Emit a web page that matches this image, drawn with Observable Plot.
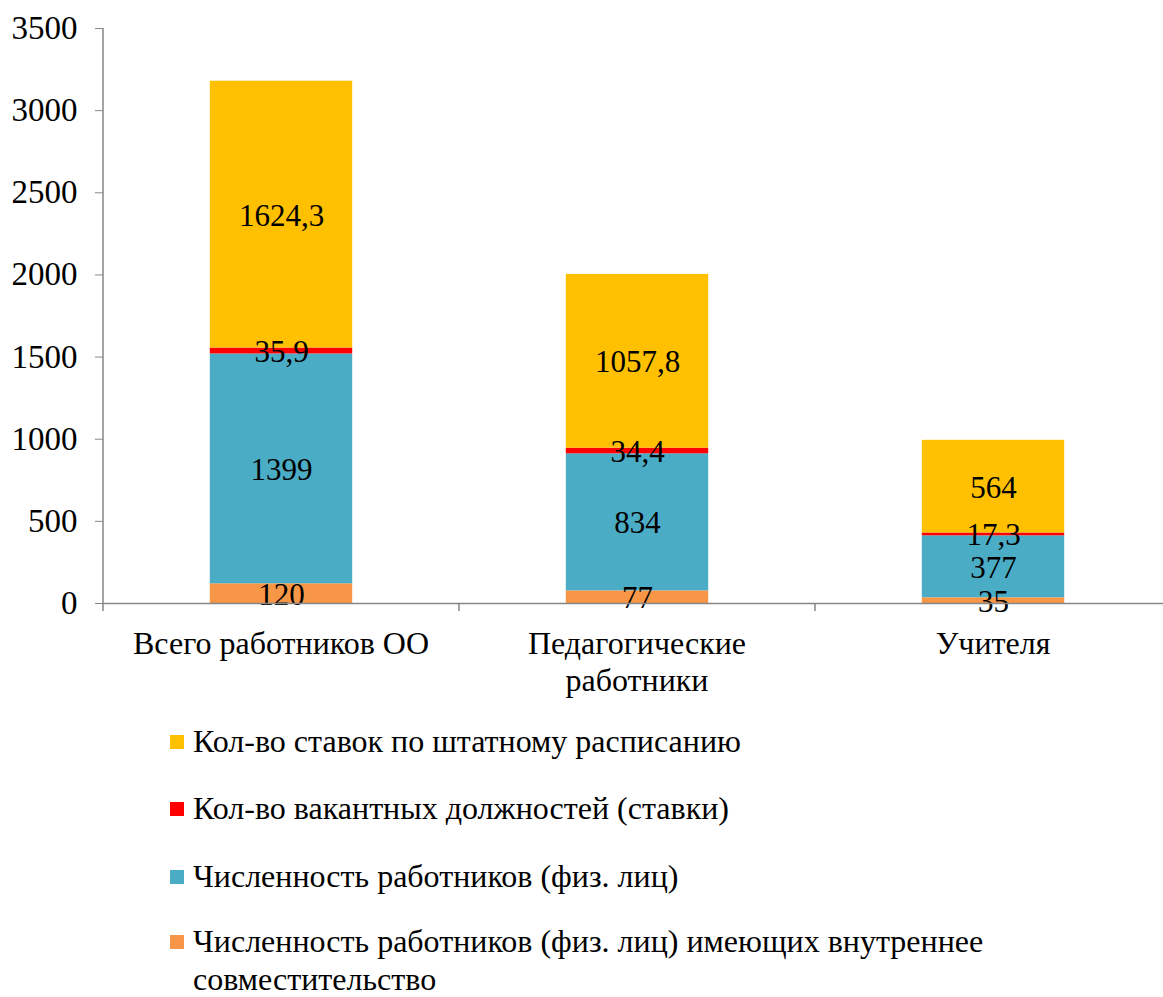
<!DOCTYPE html>
<html><head><meta charset="utf-8">
<script src="https://cdn.jsdelivr.net/npm/d3@7"></script>
<script src="https://cdn.jsdelivr.net/npm/@observablehq/plot@0.6"></script>
<style>
body{margin:0;background:#fff;overflow:hidden;width:1163px;height:997px;font-family:"Liberation Serif","Times New Roman",serif;}
#chart{width:1163px;overflow:hidden;}
#chart svg{display:block;max-width:none!important;}
.legend{position:absolute;left:170px;top:724px;font-size:32px;color:#000;}
.item{position:absolute;left:0;white-space:nowrap;line-height:38px;}
.sw{position:absolute;left:0;top:13px;width:14px;height:14px;}
.lt{position:absolute;left:23px;top:0;}
</style></head><body>
<div id="chart"></div>
<div class="legend" id="legend"></div>
<script>
const categories = ["Всего работников ОО", "Педагогические работники", "Учителя"];
const categoryLines = [["Всего работников ОО"], ["Педагогические", "работники"], ["Учителя"]];
const series = [
  "Численность работников (физ. лиц) имеющих внутреннее совместительство",
  "Численность работников (физ. лиц)",
  "Кол-во вакантных должностей (ставки)",
  "Кол-во ставок по штатному расписанию"
];
const colors = ["#F79646", "#4BACC6", "#FF0000", "#FFC000"];
const sovmest = [120, 77, 35];
const fizLic = [1399, 834, 377];
const vakant = [35.9, 34.4, 17.3];
const stavki = [1624.3, 1057.8, 564];
const yTicks = [0, 500, 1000, 1500, 2000, 2500, 3000, 3500];

const seriesValues = [sovmest, fizLic, vakant, stavki];
const data = [];
categories.forEach((c, i) => {
  series.forEach((s, j) => {
    data.push({cat: c, series: s, value: seriesValues[j][i]});
  });
});
const fmt = v => String(v).replace(".", ",");

const height = 705;
const chart = Plot.plot({
  width: 1171,
  height,
  marginLeft: 103,
  marginRight: 0,
  marginTop: 28,
  marginBottom: height - 603,
  style: {fontFamily: "'Liberation Serif','Times New Roman',serif", fontSize: "30px", color: "#000", background: "#fff"},
  x: {domain: categories, paddingInner: 0.6, paddingOuter: 0.3, align: 0.5, round: false, axis: null},
  y: {domain: [0, 3500], axis: null},
  color: {domain: series, range: colors},
  marks: [
    Plot.barY(data, {x: "cat", y: "value", fill: "series", inset: 0}),
    Plot.text(data, Plot.stackY({x: "cat", y: "value", text: d => fmt(d.value), fill: "#000", fontSize: 31, dy: 1})),
    Plot.axisY({ticks: yTicks, label: null, tickSize: 8, tickPadding: 18, stroke: "#868686", fill: "#000", fontSize: 33, tickFormat: d => String(d)}),
    Plot.ruleY([0], {stroke: "#868686", strokeWidth: 1.5})
  ]
});
document.getElementById("chart").appendChild(chart);

const svg = d3.select(chart);
const xs = chart.scale("x"), ys = chart.scale("y");
const bw = xs.step;
const left = 103;
svg.append("line").attr("x1", left).attr("x2", left).attr("y1", ys.apply(3500)).attr("y2", ys.apply(0)).attr("stroke", "#868686").attr("stroke-width", 1.5);
for (let i = 0; i <= categories.length; i++) {
  const x = left + i * bw;
  svg.append("line").attr("x1", x).attr("x2", x).attr("y1", ys.apply(0)).attr("y2", ys.apply(0) + 8).attr("stroke", "#868686").attr("stroke-width", 1.5);
}
categories.forEach((c, i) => {
  const cx = xs.apply(c) + xs.bandwidth / 2;
  const t = svg.append("text").attr("text-anchor", "middle").attr("font-size", 32).attr("fill", "#000")
    .attr("font-family", "'Liberation Serif','Times New Roman',serif");
  categoryLines[i].forEach((ln, k) => {
    t.append("tspan").attr("x", cx).attr("y", 654 + k * 37).text(ln);
  });
});

const legendOrder = [3, 2, 1, 0];
const tops = [-2, 65, 133, 198];
const lg = document.getElementById("legend");
legendOrder.forEach((j, k) => {
  const it = document.createElement("div");
  it.className = "item";
  it.style.top = tops[k] + "px";
  const sw = document.createElement("div");
  sw.className = "sw"; sw.style.background = colors[j];
  const lt = document.createElement("div");
  lt.className = "lt";
  if (j === 0) {
    lt.innerHTML = "Численность работников (физ. лиц) имеющих внутреннее<br>совместительство";
  } else lt.textContent = series[j];
  it.appendChild(sw); it.appendChild(lt);
  lg.appendChild(it);
});
</script>
</body></html>
